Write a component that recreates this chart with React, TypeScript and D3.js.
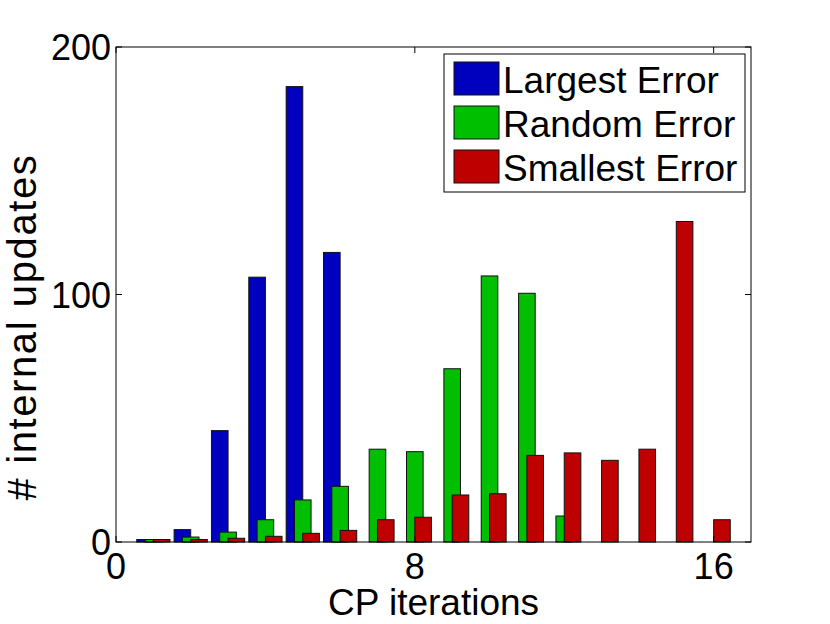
import * as d3 from "d3";
import { useEffect, useRef } from "react";

// CP iteration index of each bar group
const iterations = [1, 2, 3, 4, 5, 6, 7, 8, 9, 10, 11, 12, 13, 14, 15, 16];
const largestError = [1, 5, 45, 107, 184, 117, 0, 0, 0, 0, 0, 0, 0, 0, 0, 0];
const randomError = [1, 2, 4, 9, 17, 22.5, 37.5, 36.5, 70, 107.5, 100.5, 10.5, 0, 0, 0, 0];
const smallestError = [1, 1, 1.5, 2.3, 3.5, 4.7, 9, 10, 19, 19.5, 35, 36, 33, 37.5, 129.5, 9];
const seriesNames = ["Largest Error", "Random Error", "Smallest Error"];
const xTicks = [0, 8, 16];
const yTicks = [0, 100, 200];

const colors = ["#0000BF", "#00BF00", "#BF0000"];
const font = "'Liberation Sans', Arial, Helvetica, sans-serif";

const App = () => {
  const svgRef = useRef(null);

  useEffect(() => {
    const width = 830;
    const height = 624;
    const left = 116, right = 751, top = 47, bottom = 542;

    const svg = d3.select(svgRef.current);
    svg.selectAll("*").remove();

    const x = d3.scaleLinear().domain([0, 17]).range([left, right]);
    const y = d3.scaleLinear().domain([0, 200]).range([bottom, top]);

    svg.append("rect").attr("width", width).attr("height", height).attr("fill", "white");

    // bars: three series per group, wide bars that overlap
    const series = [largestError, randomError, smallestError];
    const offset = 2 / 9;
    const barW = 4 / 9;
    series.forEach((vals, s) => {
      const g = svg.append("g");
      g.selectAll("rect")
        .data(iterations.map((it, i) => ({ it, v: vals[i] })).filter((d) => d.v > 0))
        .join("rect")
        .attr("x", (d) => x(d.it + (s - 1) * offset - barW / 2))
        .attr("width", x(barW) - x(0))
        .attr("y", (d) => y(d.v))
        .attr("height", (d) => y(0) - y(d.v))
        .attr("fill", colors[s])
        .attr("stroke", "#111")
        .attr("stroke-width", 1);
    });

    // box
    svg.append("rect")
      .attr("x", left).attr("y", top)
      .attr("width", right - left).attr("height", bottom - top)
      .attr("fill", "none").attr("stroke", "black").attr("stroke-width", 1);

    // ticks (inward, both sides)
    const tl = 6;
    xTicks.forEach((t) => {
      svg.append("line").attr("x1", x(t)).attr("x2", x(t)).attr("y1", bottom).attr("y2", bottom - tl).attr("stroke", "black");
      svg.append("line").attr("x1", x(t)).attr("x2", x(t)).attr("y1", top).attr("y2", top + tl).attr("stroke", "black");
    });
    yTicks.forEach((t) => {
      svg.append("line").attr("x1", left).attr("x2", left + tl).attr("y1", y(t)).attr("y2", y(t)).attr("stroke", "black");
      svg.append("line").attr("x1", right).attr("x2", right - tl).attr("y1", y(t)).attr("y2", y(t)).attr("stroke", "black");
    });

    // tick labels
    svg.append("g").selectAll("text").data(xTicks).join("text")
      .attr("x", (d) => x(d)).attr("y", 579)
      .attr("text-anchor", "middle")
      .attr("font-family", font).attr("font-size", 36)
      .text((d) => d);
    svg.append("g").selectAll("text").data(yTicks).join("text")
      .attr("x", 111).attr("y", (d) => y(d) + 13)
      .attr("text-anchor", "end")
      .attr("font-family", font).attr("font-size", 36)
      .text((d) => d);

    // axis titles
    svg.append("text")
      .attr("x", (left + right) / 2).attr("y", 615)
      .attr("text-anchor", "middle")
      .attr("font-family", font).attr("font-size", 37)
      .text("CP iterations");
    svg.append("text")
      .attr("transform", "translate(36,327) rotate(-90)")
      .attr("text-anchor", "middle")
      .attr("font-family", font).attr("font-size", 40)
      .attr("letter-spacing", 1.6)
      .text("# internal updates");

    // legend
    const lg = svg.append("g");
    lg.append("rect")
      .attr("x", 444).attr("y", 54).attr("width", 301).attr("height", 138)
      .attr("fill", "white").attr("stroke", "black");
    seriesNames.forEach((name, i) => {
      const yy = 62 + i * 44;
      lg.append("rect")
        .attr("x", 454).attr("y", yy).attr("width", 45).attr("height", 33)
        .attr("fill", colors[i]).attr("stroke", "#111");
      lg.append("text")
        .attr("x", 503).attr("y", yy + 31)
        .attr("font-family", font).attr("font-size", 37)
        .text(name);
    });
  }, []);

  return (
    <svg
      ref={svgRef}
      width={830}
      height={624}
      style={{ position: "absolute", left: 0, top: 0 }}
    ></svg>
  );
};

export default App;
